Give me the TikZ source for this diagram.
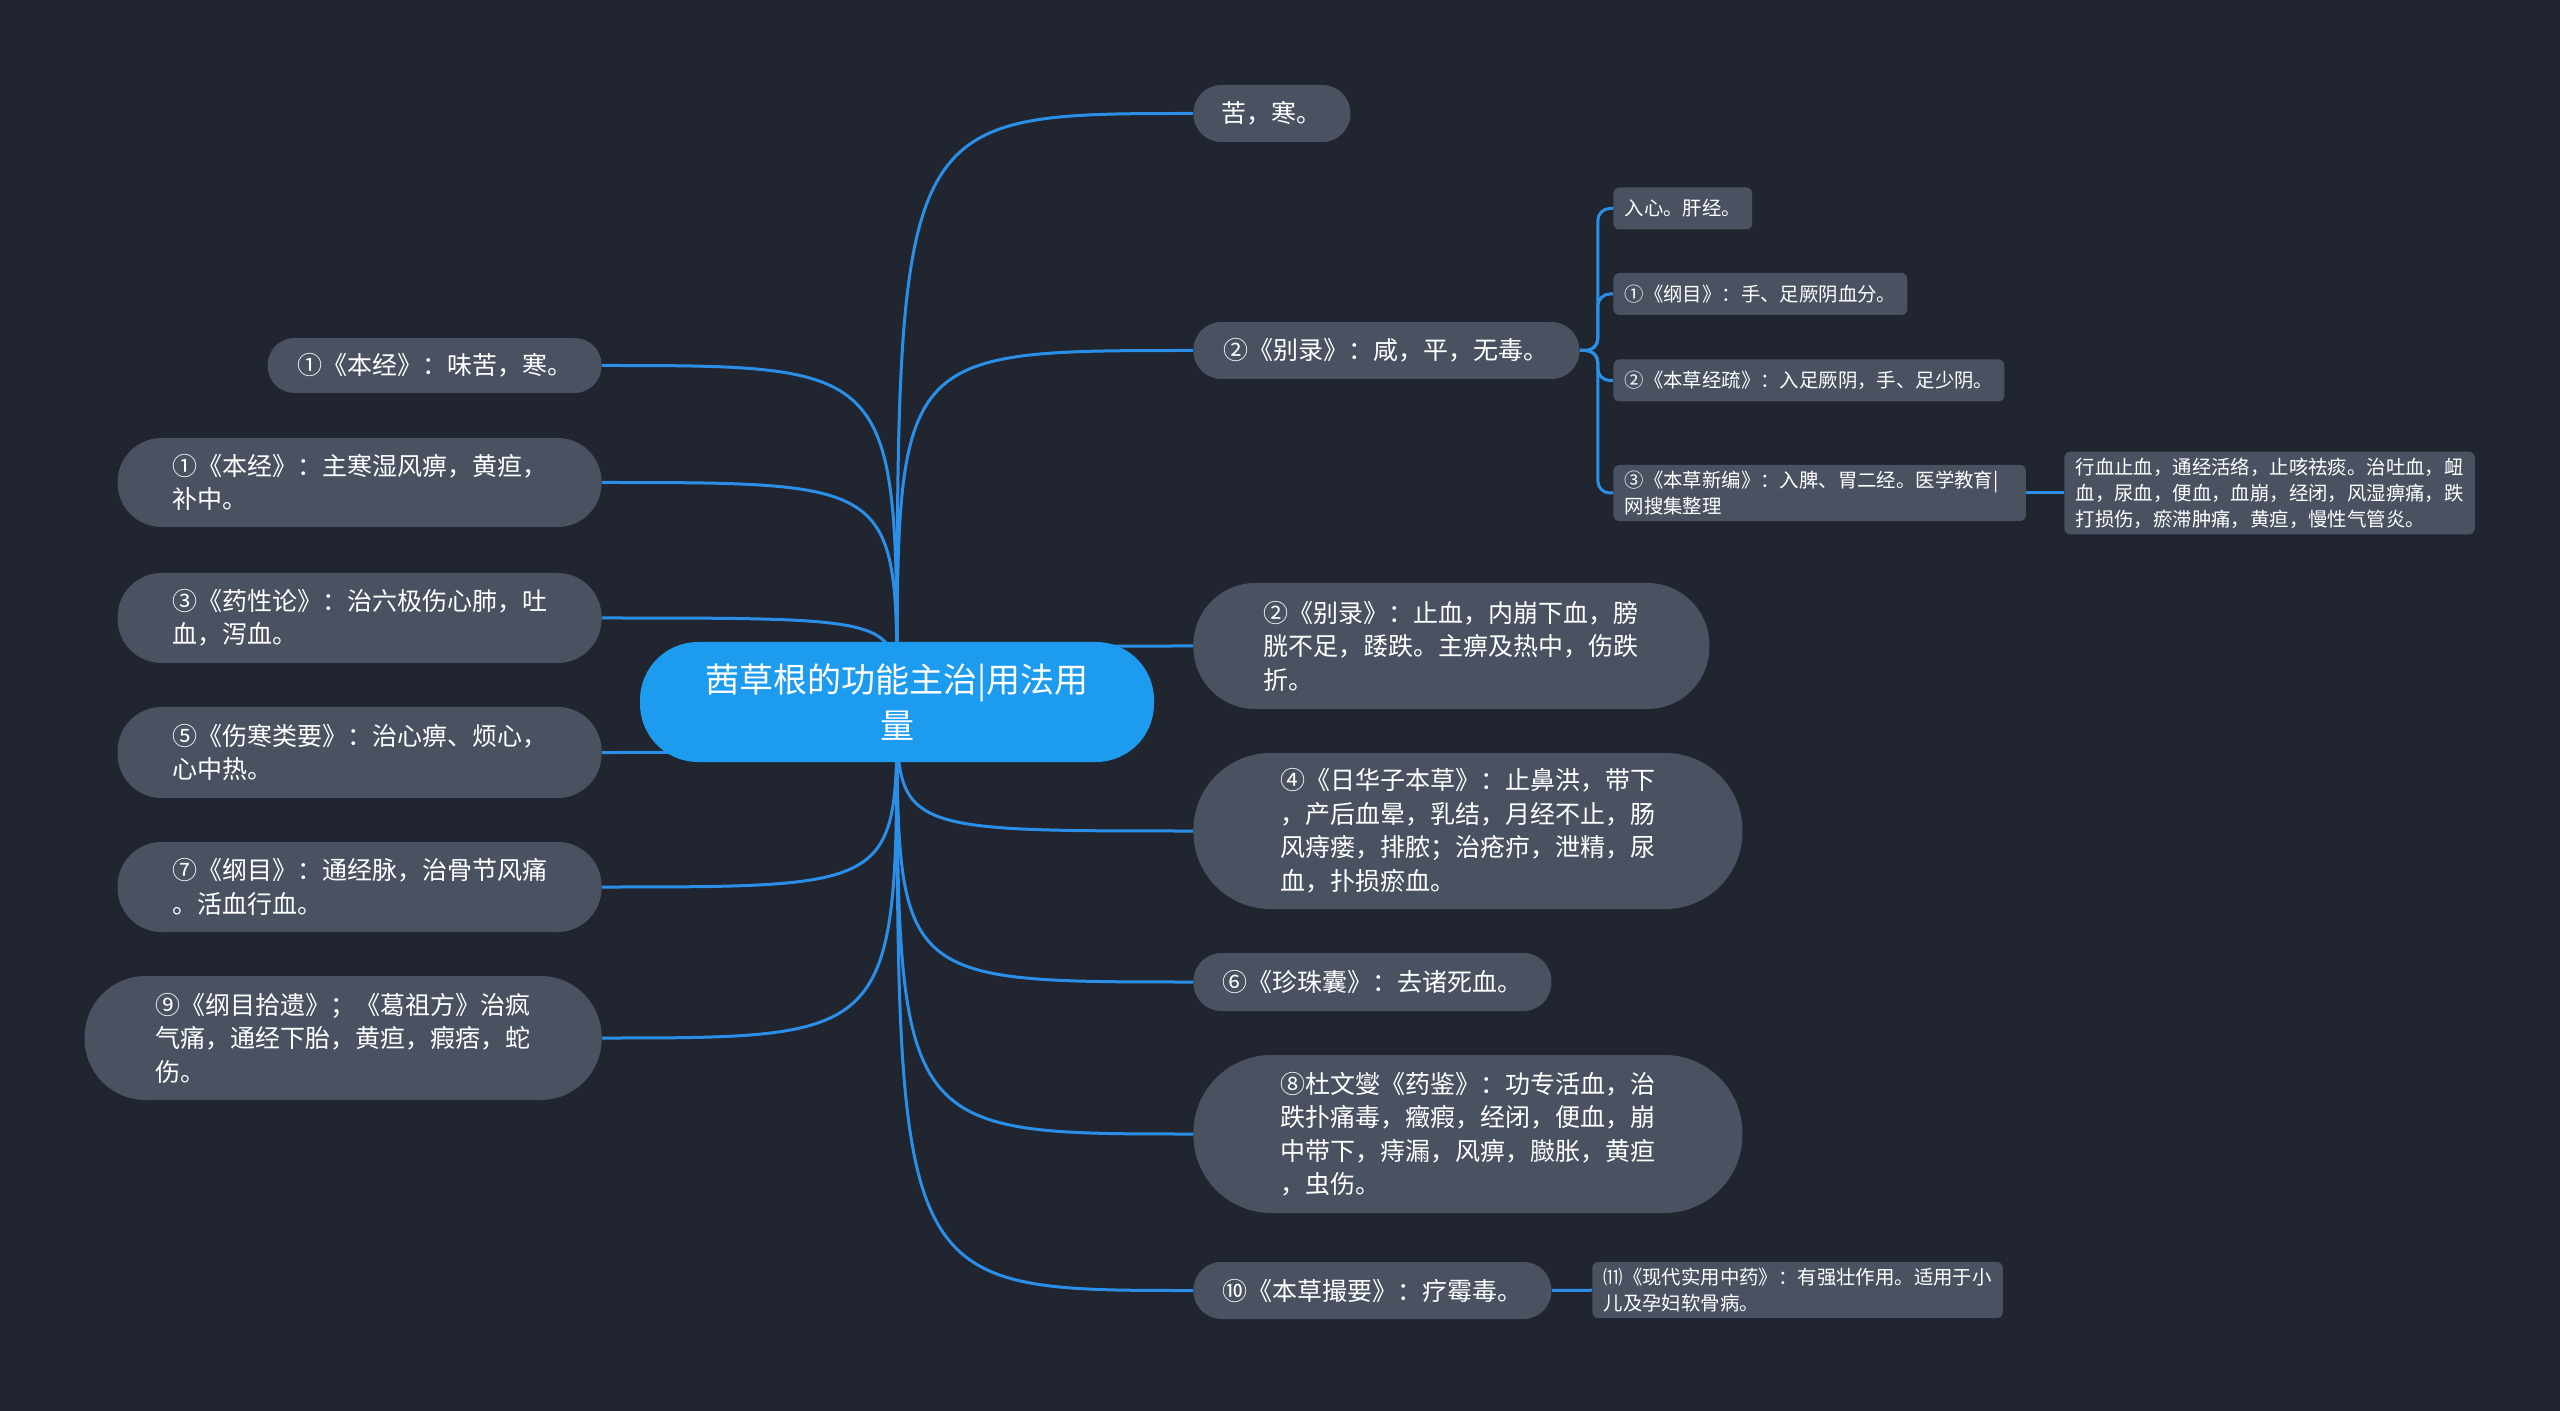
\documentclass[tikz,border=0pt]{standalone}
\usepackage{fontspec}
\newfontfamily\cjk{Noto Sans CJK SC}
\usetikzlibrary{backgrounds}
\definecolor{canvas}{HTML}{21252F}
\definecolor{boxgray}{HTML}{4A5262}
\definecolor{rootblue}{HTML}{1C9BEF}
\definecolor{linkblue}{HTML}{2A8FE8}

\begin{document}
\begin{tikzpicture}[x=0.5pt, y=-0.5pt,
        root/.style={fill=rootblue, text=white, rounded corners=29pt, minimum width=257pt, minimum height=60pt, align=center, inner sep=0pt, font=\cjk\fontsize{17}{23}\selectfont},
        pill/.style={fill=boxgray, text=white, rounded corners=#1, align=left, inner sep=0pt, font=\cjk\fontsize{12.5}{16.75}\selectfont},
        tag/.style={fill=boxgray, text=white, rounded corners=3pt, align=left, inner xsep=5.6pt, inner ysep=3pt, minimum height=21pt, font=\cjk\fontsize{9.7}{13}\selectfont},
        branch/.style={draw=linkblue, line width=1.5pt}
    ]
    \node[root] (root) at (897,702) {茜草根的功能主治|用法用\\量};

    \node[pill=13.5pt, anchor=east, minimum width=167pt, minimum height=27.5pt] (benjingA) at (602,365.5) {①《本经》：味苦，寒。};
    \node[pill=22pt, anchor=east, minimum width=242pt, minimum height=44.5pt] (benjingB) at (602,482.5) {①《本经》：主寒湿风痹，黄疸，\\补中。};
    \node[pill=22pt, anchor=east, minimum width=242pt, minimum height=45pt] (yaoxing) at (602,618) {③《药性论》：治六极伤心肺，吐\\血，泻血。};
    \node[pill=22pt, anchor=east, minimum width=242pt, minimum height=45.5pt] (shanghan) at (602,752.5) {⑤《伤寒类要》：治心痹、烦心，\\心中热。};
    \node[pill=22pt, anchor=east, minimum width=242pt, minimum height=45pt] (gangmuA) at (602,887) {⑦《纲目》：通经脉，治骨节风痛\\。活血行血。};
    \node[pill=30.5pt, anchor=east, minimum width=258.5pt, minimum height=62pt] (shiyi) at (602,1038) {⑨《纲目拾遗》；《葛祖方》治疯\\气痛，通经下胎，黄疸，瘕痞，蛇\\伤。};

    \node[pill=14pt, anchor=west, minimum width=78.5pt, minimum height=28.5pt] (kuhan) at (1193,113.5) {苦，寒。};
    \node[pill=14pt, anchor=west, minimum width=193pt, minimum height=28.5pt] (bieluA) at (1193,350.5) {②《别录》：咸，平，无毒。};
    \node[pill=31pt, anchor=west, minimum width=258pt, minimum height=63pt] (bieluB) at (1193,646) {②《别录》：止血，内崩下血，膀\\胱不足，踒跌。主痹及热中，伤跌\\折。};
    \node[pill=38.5pt, anchor=west, minimum width=274.5pt, minimum height=78pt] (rihuazi) at (1193,831) {④《日华子本草》：止鼻洪，带下\\，产后血晕，乳结，月经不止，肠\\风痔瘘，排脓；治疮疖，泄精，尿\\血，扑损瘀血。};
    \node[pill=14pt, anchor=west, minimum width=179pt, minimum height=29pt] (zhenzhu) at (1193,982) {⑥《珍珠囊》：去诸死血。};
    \node[pill=39pt, anchor=west, minimum width=274.5pt, minimum height=79pt] (yaojian) at (1193,1134) {⑧杜文燮《药鉴》：功专活血，治\\跌扑痛毒，癥瘕，经闭，便血，崩\\中带下，痔漏，风痹，臌胀，黄疸\\，虫伤。};
    \node[pill=14pt, anchor=west, minimum width=179pt, minimum height=28.5pt] (cuoyao) at (1193,1290.5) {⑩《本草撮要》：疗霉毒。};
    \node[tag, anchor=west] (xiandai) at (1592,1290) {⑾《现代实用中药》：有强壮作用。适用于小\\儿及孕妇软骨病。};

    \node[tag, anchor=west] (ruxin) at (1613,208.5) {入心。肝经。};
    \node[tag, anchor=west] (gangmuB) at (1613,294) {①《纲目》：手、足厥阴血分。};
    \node[tag, anchor=west] (jingshu) at (1613,380.5) {②《本草经疏》：入足厥阴，手、足少阴。};
    \node[tag, anchor=west, text width=195pt] (xinbian) at (1613,493) {③《本草新编》：入脾、胃二经。医学教育|\\网搜集整理};
    \node[tag, anchor=west] (xingxue) at (2064,493) {行血止血，通经活络，止咳祛痰。治吐血，衄\\血，尿血，便血，血崩，经闭，风湿痹痛，跌\\打损伤，瘀滞肿痛，黄疸，慢性气管炎。};

    \begin{scope}[on background layer]
        \fill[canvas] (0,0) rectangle (2560,1411);
        \foreach \n in {benjingA,benjingB,yaoxing,shanghan,gangmuA,shiyi}
            \draw[branch] (root.center) .. controls (root.center |- \n.east) .. (\n.east);
        \foreach \n in {kuhan,bieluA,bieluB,rihuazi,zhenzhu,yaojian,cuoyao}
            \draw[branch] (root.center) .. controls (root.center |- \n.west) .. (\n.west);
        \foreach \n in {ruxin,gangmuB,jingshu,xinbian}
            \draw[branch, rounded corners=6pt] (bieluA.east) -- ++(18,0) |- (\n.west);
        \draw[branch] (xinbian) -- (xingxue);
        \draw[branch] (cuoyao) -- (xiandai);
    \end{scope}
    \useasboundingbox (0,0) rectangle (2560,1411);
\end{tikzpicture}
\end{document}
